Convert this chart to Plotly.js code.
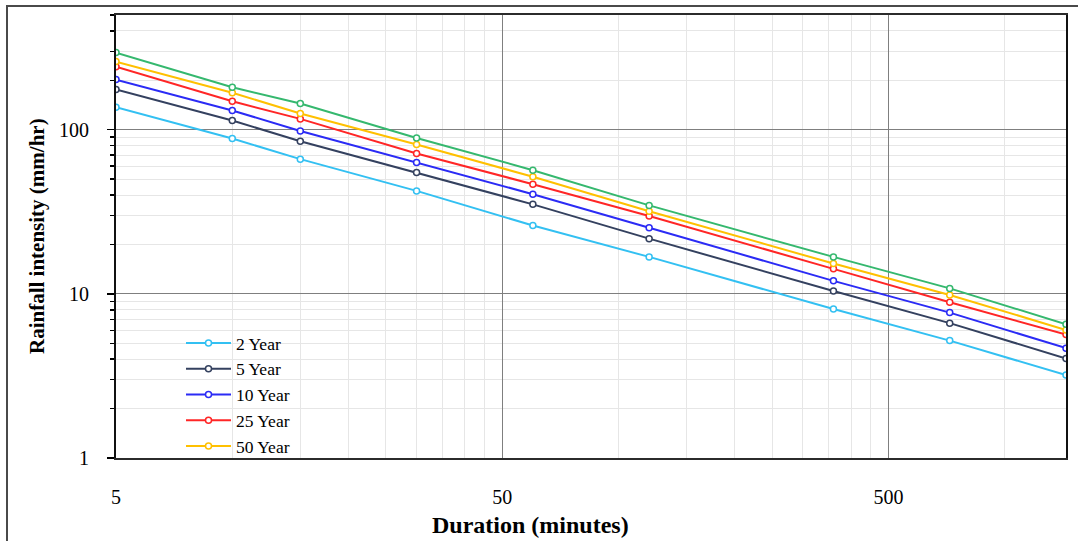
<!DOCTYPE html>
<html>
<head>
<meta charset="utf-8">
<script src="https://cdn.plot.ly/plotly-3.0.1.min.js"></script>
<style>
html,body{margin:0;padding:0;background:#fff;overflow:hidden;}
#chart{width:1078px;height:541px;}
</style>
</head>
<body>
<div id="chart"></div>
<script>
// Duration (minutes)
const durations = [5, 10, 15, 30, 60, 120, 360, 720, 1440];
// Rainfall intensity (mm/hr) per return period
const year2   = [137, 88.4, 66.2, 42.4, 26.1, 16.8, 8.09, 5.19, 3.20];
const year5   = [176, 113.7, 85.1, 54.9, 35.1, 21.7, 10.4, 6.63, 4.04];
const year10  = [202, 131, 98.3, 63.1, 40.5, 25.3, 12.0, 7.69, 4.67];
const year25  = [242, 149, 116.4, 71.7, 46.6, 29.8, 14.2, 8.89, 5.65];
const year50  = [260, 168, 125.5, 81.3, 51.7, 31.9, 15.3, 9.85, 6.03];
const year100 = [295, 181.4, 144.3, 89.1, 56.7, 34.6, 16.8, 10.8, 6.53];

const seriesNames = ['2 Year', '5 Year', '10 Year', '25 Year', '50 Year', '100 Year'];
const seriesValues = [year2, year5, year10, year25, year50, year100];
const seriesColors = ['#33C0F2', '#34415F', '#2B2BF5', '#FF2626', '#FFC000', '#35B86E'];
const seriesInLegend = [true, true, true, true, true, false];

const xTickVals = [5, 50, 500];
const xTickText = ['5', '50', '500'];
const xMinorVals = [10,15,20,25,30,35,40,45,100,150,200,250,300,350,400,450,1000];
const yTickVals = [1, 10, 100];
const yTickText = ['1', '10', '100'];
const yMinorVals = [2,3,4,5,6,7,8,9,20,30,40,50,60,70,80,90,200,300,400,500];

const FONT = 'Liberation Serif, Times New Roman, serif';

const traces = seriesNames.map((n, i) => ({
  x: durations,
  y: seriesValues[i],
  name: n,
  type: 'scatter',
  mode: 'lines+markers',
  showlegend: seriesInLegend[i],
  line: {color: seriesColors[i], width: 2},
  marker: {symbol: 'circle', size: 6, color: '#ffffff', line: {color: seriesColors[i], width: 1.5}}
}));

const L = 116, R = 1066, T = 15, B = 458;
const px2x = p => (p - L) / (R - L);
const px2y = p => (B - p) / (B - T);

const layout = {
  width: 1078, height: 541,
  margin: {l: L, r: 1078 - R, t: T, b: 541 - B, pad: 0},
  paper_bgcolor: '#ffffff',
  plot_bgcolor: '#ffffff',
  font: {family: FONT, size: 20, color: '#000000'},
  showlegend: true,
  legend: {
    x: px2x(181), y: px2y(325), xanchor: 'left', yanchor: 'top',
    bgcolor: 'rgba(0,0,0,0)', borderwidth: 0,
    font: {family: FONT, size: 17.5, color: '#000'},
    itemwidth: 45, tracegroupgap: 0
  },
  xaxis: {
    type: 'log',
    range: [Math.log10(5), Math.log10(1440)],
    tickmode: 'array', tickvals: xTickVals, ticktext: xTickText,
    ticks: '', ticklabelstandoff: 20,
    tickfont: {family: FONT, size: 20, color: '#000'},
    showgrid: true, gridcolor: '#7f7f7f', gridwidth: 1,
    minor: {tickmode: 'array', tickvals: xMinorVals, showgrid: true, gridcolor: '#E6E6E6', gridwidth: 1, ticks: ''},
    showline: true, linecolor: '#2b2b2b', linewidth: 2, mirror: true,
    zeroline: false
  },
  yaxis: {
    type: 'log',
    range: [0, Math.log10(500)],
    tickmode: 'array', tickvals: yTickVals, ticktext: yTickText,
    ticks: 'outside', ticklen: 7, tickwidth: 1.5, tickcolor: '#000',
    ticklabelstandoff: 14,
    tickfont: {family: FONT, size: 20, color: '#000'},
    showgrid: true, gridcolor: '#7f7f7f', gridwidth: 1,
    minor: {tickmode: 'array', tickvals: yMinorVals, showgrid: true, gridcolor: '#E6E6E6', gridwidth: 1, ticks: 'outside', ticklen: 4, tickwidth: 1.5, tickcolor: '#000'},
    showline: true, linecolor: '#111', linewidth: 2, mirror: true,
    zeroline: false
  },
  annotations: [
    {text: '<b>Duration (minutes)</b>', xref: 'paper', yref: 'paper', x: px2x(530), y: px2y(525),
     xanchor: 'center', yanchor: 'middle', showarrow: false, font: {family: FONT, size: 24, color: '#000'}},
    {text: '<b>Rainfall intensity (mm/hr)</b>', xref: 'paper', yref: 'paper', x: px2x(37), y: px2y(236),
     xanchor: 'center', yanchor: 'middle', textangle: -90, showarrow: false, font: {family: FONT, size: 21, color: '#000'}}
  ],
  shapes: [
    {type: 'rect', xref: 'paper', yref: 'paper', x0: px2x(7), x1: px2x(1100), y0: px2y(600), y1: px2y(6),
     line: {color: '#4a4a4a', width: 2}, fillcolor: 'rgba(0,0,0,0)', layer: 'above'}
  ]
};

Plotly.newPlot('chart', traces, layout, {displayModeBar: false, staticPlot: true});
</script>
</body>
</html>
